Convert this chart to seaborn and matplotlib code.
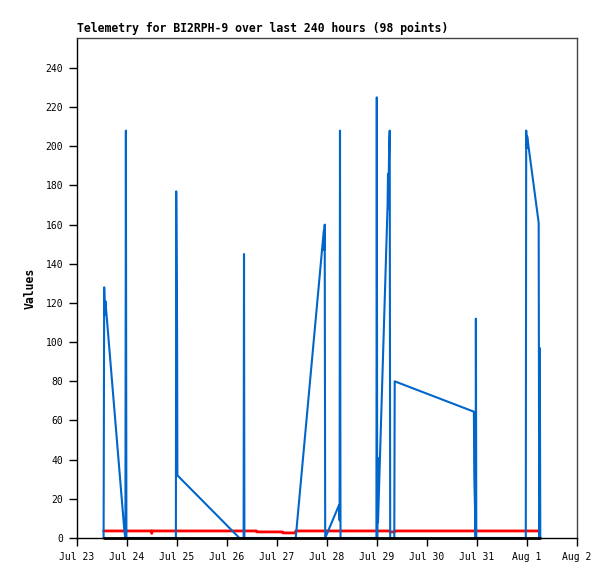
import numpy as np
import pandas as pd
import matplotlib
matplotlib.use("Agg")
import matplotlib.pyplot as plt
import matplotlib.dates as mdates
import matplotlib.ticker as mticker
import seaborn as sns

# telemetry samples (time, channel values)
times = [
    "07-23 12:46", "07-23 13:03", "07-23 13:24", "07-23 13:38", "07-23 22:48",
    "07-23 23:14", "07-23 23:28", "07-23 23:43", "07-24 11:46", "07-24 11:52",
    "07-24 12:00", "07-24 23:28", "07-24 23:37", "07-25 00:03", "07-25 00:11",
    "07-26 05:57", "07-26 07:58", "07-26 08:10", "07-26 08:21", "07-26 14:07",
    "07-26 14:21", "07-27 02:38", "07-27 02:53", "07-27 08:44", "07-27 08:59",
    "07-27 22:28", "07-27 22:39", "07-27 22:54", "07-27 23:08", "07-28 05:51",
    "07-28 06:03", "07-28 06:14", "07-28 06:29", "07-28 23:43", "07-28 23:54",
    "07-29 00:06", "07-29 00:14", "07-29 00:29", "07-29 05:05", "07-29 05:17",
    "07-29 05:25", "07-29 05:51", "07-29 06:06", "07-29 06:20", "07-29 08:18",
    "07-29 08:30", "07-30 22:30", "07-30 22:42", "07-30 23:20", "07-30 23:28",
    "07-30 23:40", "07-31 23:25", "07-31 23:37", "07-31 23:54", "08-01 00:06",
    "08-01 05:36", "08-01 05:52", "08-01 06:09", "08-01 06:23",
]
blue_vals = [
    0, 128, 114, 121, 3,
    0, 208, 0, 0, 0,
    0, 0, 177, 104, 32,
    0, 0, 145, 0, 0,
    0, 0, 0, 0, 0,
    157, 147, 160, 0, 17,
    9, 208, 0, 0, 225,
    0, 41, 8, 170, 186,
    168, 200, 208, 0, 0,
    80, 64.5, 32, 0, 112,
    0, 0, 208, 199, 205,
    161, 0, 97, 0,
]
red_vals = [
    3.6, 3.6, 3.6, 3.6, 3.6,
    3.6, 3.6, 3.6, 3.6, 2.4,
    3.6, 3.6, 3.6, 3.6, 3.6,
    3.6, 3.6, 3.6, 3.6, 3.6,
    3.1, 3.1, 2.6, 2.6, 3.6,
    3.6, 3.6, 3.6, 3.6, 3.6,
    3.6, 3.6, 3.6, 3.6, 3.6,
    3.6, 3.6, 3.6, 3.6, 3.6,
    3.6, 3.6, 3.6, 3.1, 3.1,
    3.6, 3.6, 3.6, 3.6, 3.6,
    3.6, 3.6, 3.6, 3.6, 3.6,
    3.6, np.nan, np.nan, np.nan,
]
black_vals = [0] * len(times)

title = "Telemetry for BI2RPH-9 over last 240 hours (98 points)"

t = pd.to_datetime(["2025-" + s for s in times], format="%Y-%m-%d %H:%M")

sns.set_theme(style="ticks")
plt.rcParams["font.family"] = ["DejaVu Sans Mono"]
plt.rcParams["text.color"] = "black"
plt.rcParams["axes.labelcolor"] = "black"

fig = plt.figure(figsize=(6.15, 5.79), dpi=100)
ax = fig.add_axes([77 / 615, 41 / 579, 500 / 615, 500 / 579])

lw = 1.5
sns.lineplot(x=t, y=red_vals, color="#ff0000", linewidth=2.0, ax=ax)
sns.lineplot(x=t, y=blue_vals, color="#0066cc", linewidth=lw, ax=ax)
sns.lineplot(x=t, y=black_vals, color="#000000", linewidth=2.0, ax=ax, zorder=3)
ax.lines[-1].set_clip_on(False)

ax.set_xlim(pd.Timestamp("2025-07-23"), pd.Timestamp("2025-08-02"))
ax.set_ylim(0, 255.3)
ax.set_yticks(np.arange(0, 241, 20))
ax.xaxis.set_major_locator(mdates.DayLocator())
ax.xaxis.set_major_formatter(
    mticker.FuncFormatter(lambda v, p: "{:%b} {}".format(mdates.num2date(v), mdates.num2date(v).day))
)

ax.tick_params(axis="both", labelsize=7, length=6, width=1, color="black", labelcolor="black")
ax.tick_params(axis="y", pad=4)
ax.tick_params(axis="x", pad=4)

for side in ["left", "bottom"]:
    ax.spines[side].set_color("black")
    ax.spines[side].set_linewidth(1)
for side in ["top", "right"]:
    ax.spines[side].set_visible(True)
    ax.spines[side].set_color("#444444")
    ax.spines[side].set_linewidth(1)

ax.set_xlabel("")
ax.set_ylabel("Values", fontsize=8.3, fontweight="bold", labelpad=6)
ax.set_title(title, loc="left", fontsize=8.3, fontweight="bold", pad=4, color="black")
ax.grid(False)

fig.savefig("out.png", dpi=100, facecolor="white")
